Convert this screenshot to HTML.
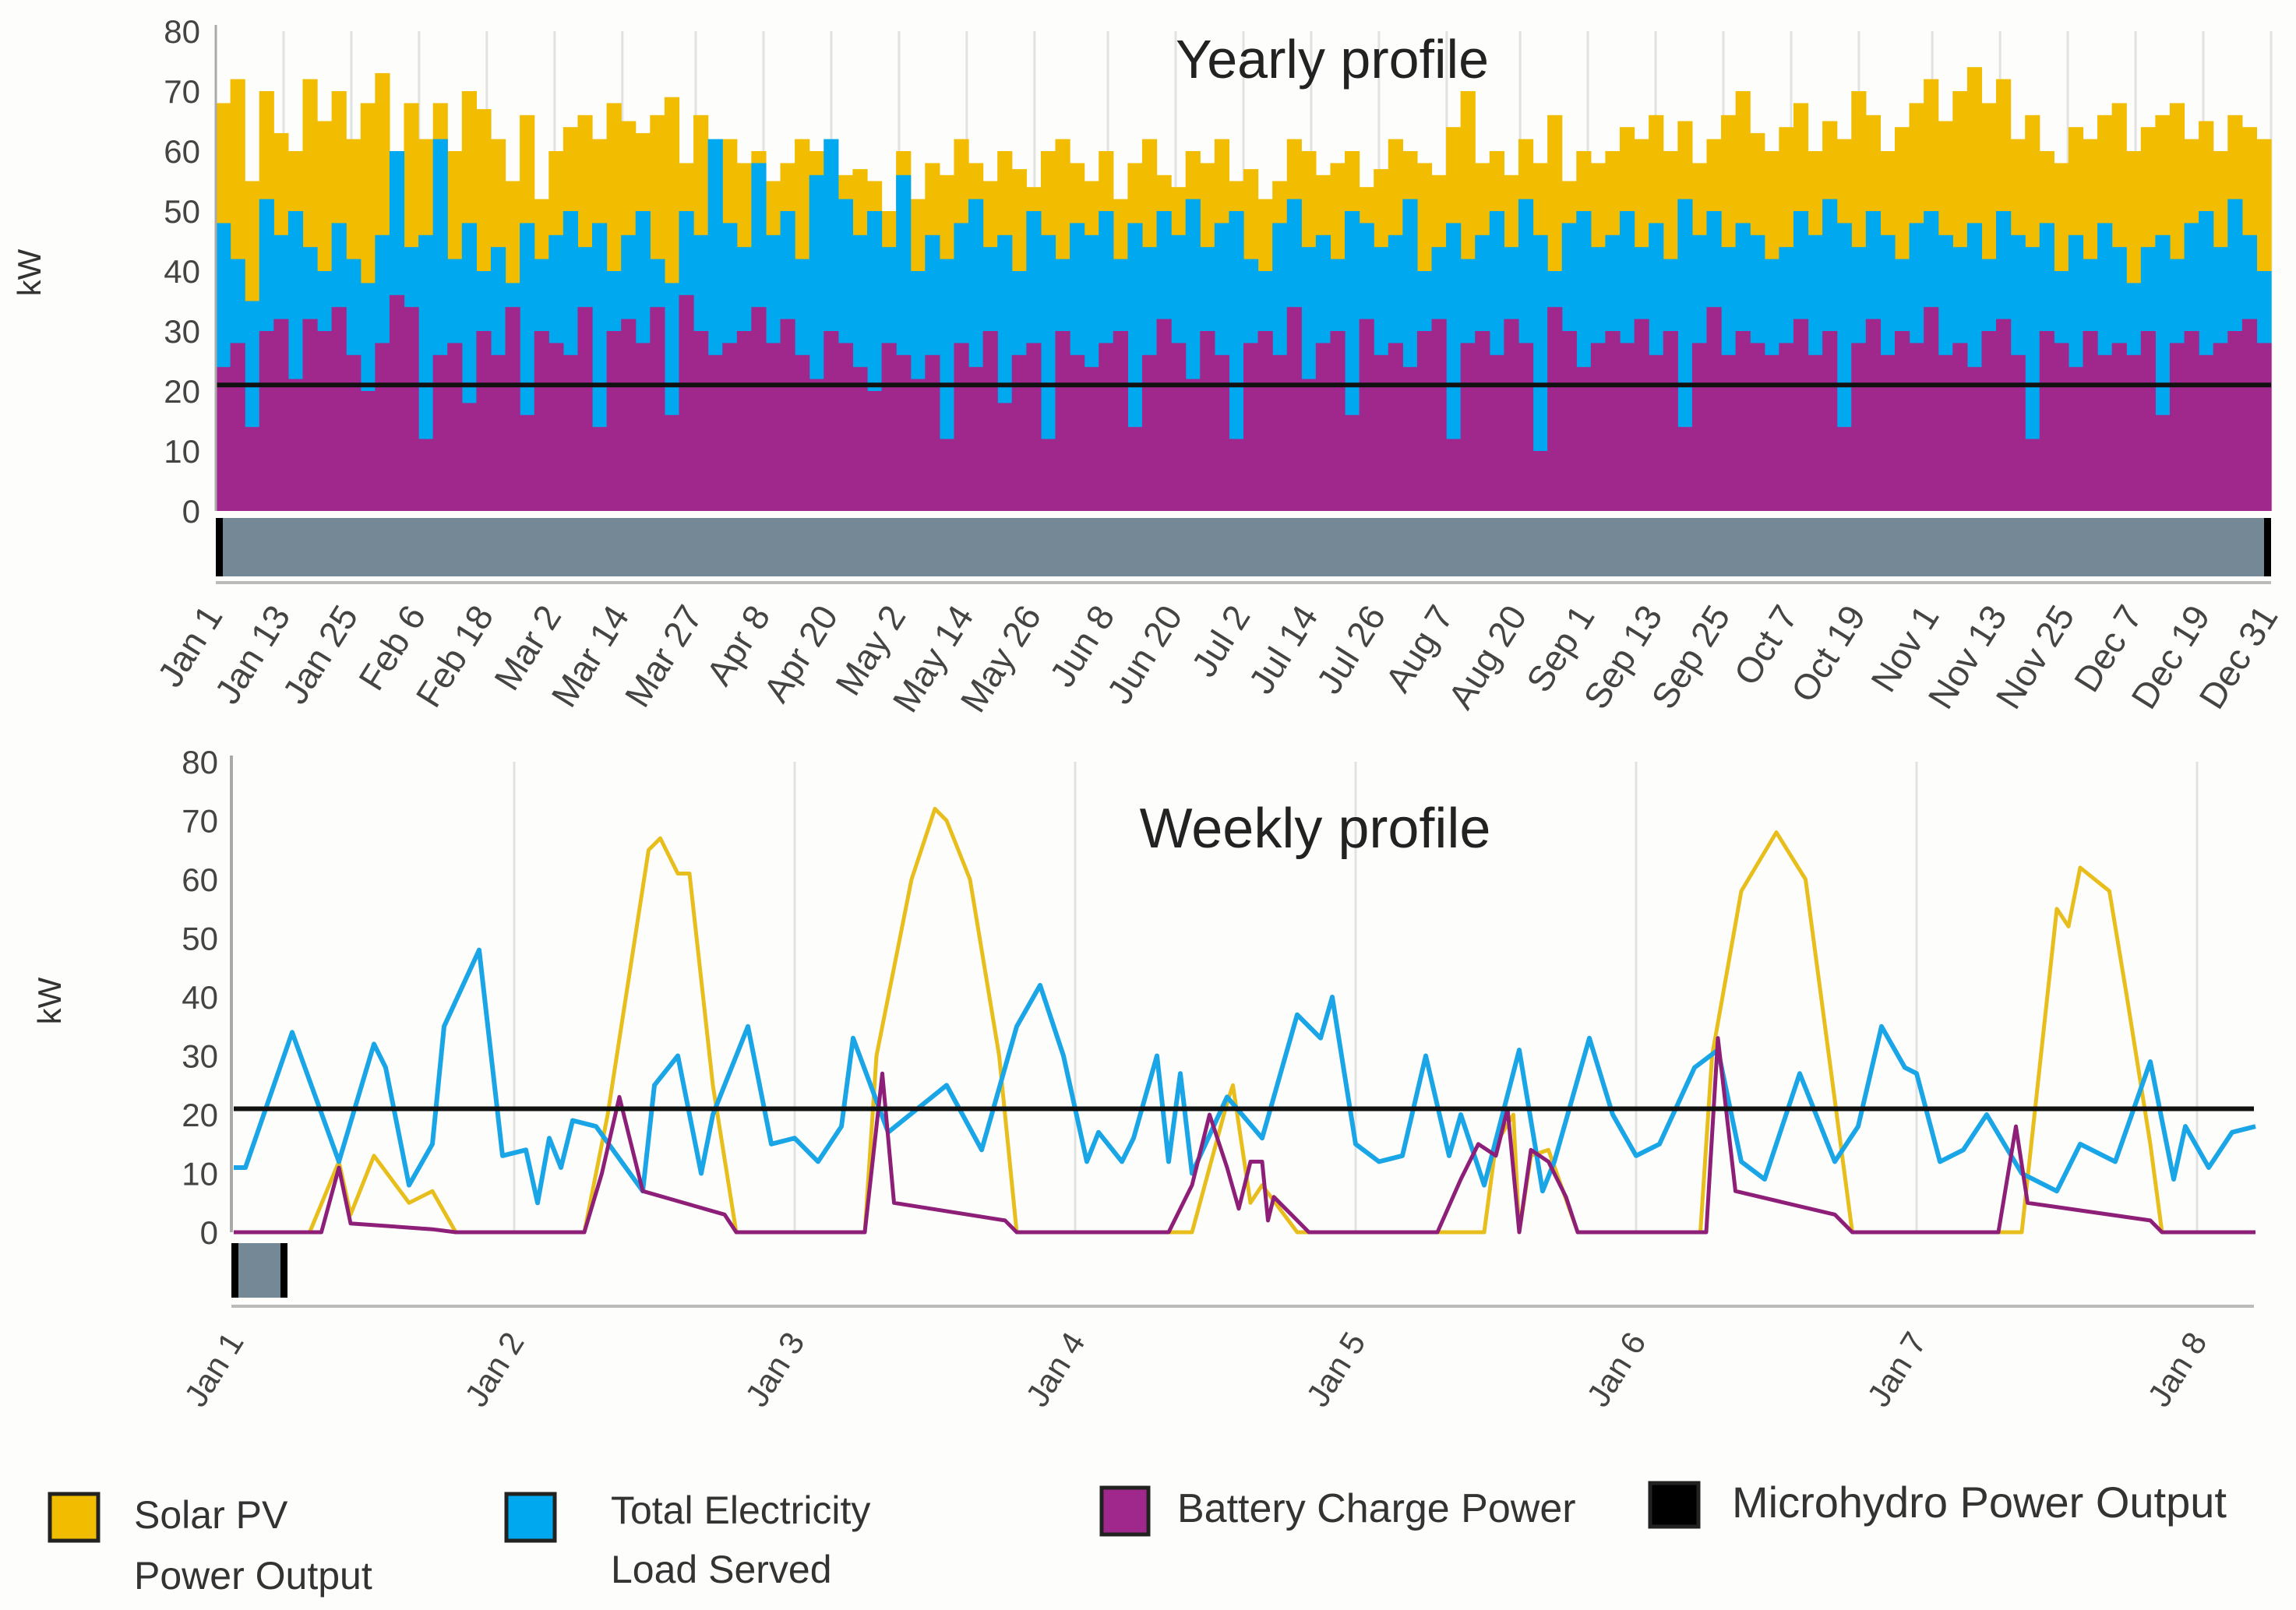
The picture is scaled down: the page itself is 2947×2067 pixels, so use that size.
<!DOCTYPE html>
<html><head><meta charset="utf-8">
<style>
html,body{margin:0;padding:0;background:#fdfdfb;}
svg{display:block;font-family:"Liberation Sans","DejaVu Sans",sans-serif;}
</style></head>
<body>
<svg id="chart" width="2947" height="2067" viewBox="0 0 2947 2067" xmlns="http://www.w3.org/2000/svg">
<rect x="0" y="0" width="2947" height="2067" fill="#fdfdfb"/>
<g id="yearly"></g>
<g id="weekly"></g>
<g id="legend">
  <g>
    <rect x="64" y="1918" width="62" height="60" fill="#f2bd00" stroke="#222" stroke-width="5"/>
    <text x="172" y="1962" font-size="50" fill="#333">Solar PV</text>
    <text x="172" y="2040" font-size="50" fill="#333">Power Output</text>
  </g>
  <g>
    <rect x="650" y="1918" width="62" height="60" fill="#00a8f0" stroke="#222" stroke-width="5"/>
    <text x="784" y="1956" font-size="50" fill="#333">Total Electricity</text>
    <text x="784" y="2032" font-size="50" fill="#333">Load Served</text>
  </g>
  <g>
    <rect x="1414" y="1910" width="60" height="60" fill="#a0288c" stroke="#222" stroke-width="5"/>
    <text x="1511" y="1954" font-size="52" fill="#333">Battery Charge Power</text>
  </g>
  <g>
    <rect x="2118" y="1904" width="62" height="56" fill="#000" stroke="#222" stroke-width="5"/>
    <text x="2223" y="1948" font-size="56" fill="#333">Microhydro Power Output</text>
  </g>
</g>
</svg>
<script>
// ---------- Yearly data (binned ~2.6 days) ----------
const yearSolar = [68,72,55,70,63,60,72,65,70,62,68,73,
58,68,62,68,60,70,67,62,55,66,52,60,
64,66,62,68,65,63,66,69,58,66,60,62,
58,60,55,58,62,60,52,56,57,55,50,60,
52,58,56,62,58,55,60,57,54,60,62,58,
55,60,52,58,62,56,54,60,58,62,55,57,
52,55,62,60,56,58,60,54,57,62,60,58,
56,64,70,58,60,56,62,58,66,55,60,58,
60,64,62,66,60,65,58,62,66,70,63,60,
64,68,60,65,62,70,66,60,64,68,72,65,
70,74,68,72,62,66,60,58,64,62,66,68,
60,64,66,68,62,65,60,66,64,62];
const yearLoad = [48,42,35,52,46,50,44,40,48,42,38,46,
60,44,46,62,42,48,40,44,38,48,42,46,
50,44,48,40,46,50,42,38,50,46,62,48,
44,58,46,50,42,56,62,52,46,50,44,56,
40,46,42,48,52,44,46,40,50,46,42,48,
46,50,42,48,44,50,46,52,44,48,50,42,
40,48,52,44,46,42,50,48,44,46,52,40,
44,48,42,46,50,44,52,46,40,48,50,44,
46,50,44,48,42,52,46,50,44,48,46,42,
44,50,46,52,48,44,50,46,42,48,50,46,
44,48,42,50,46,44,48,40,46,42,48,44,
38,44,46,42,48,50,44,52,46,40];
const yearBattery = [24,28,14,30,32,22,32,30,34,26,20,28,
36,34,12,26,28,18,30,26,34,16,30,28,
26,34,14,30,32,28,34,16,36,30,26,28,
30,34,28,32,26,22,30,28,24,20,28,26,
22,26,12,28,24,30,18,26,28,12,30,26,
24,28,30,14,26,32,28,22,30,26,12,28,
30,26,34,22,28,30,16,32,26,28,24,30,
32,12,28,30,26,32,28,10,34,30,24,28,
30,28,32,26,30,14,28,34,26,30,28,26,
28,32,26,30,14,28,32,26,30,28,34,26,
28,24,30,32,26,12,30,28,24,30,26,28,
26,30,16,28,30,26,28,30,32,28];
const yearHydro = 21;
const yearTickLabels = ["Jan 1","Jan 13","Jan 25","Feb 6","Feb 18","Mar 2","Mar 14","Mar 27","Apr 8","Apr 20","May 2","May 14","May 26","Jun 8","Jun 20","Jul 2","Jul 14","Jul 26","Aug 7","Aug 20","Sep 1","Sep 13","Sep 25","Oct 7","Oct 19","Nov 1","Nov 13","Nov 25","Dec 7","Dec 19","Dec 31"];
const yearTickDays = [0,12,24,36,48,60,72,85,97,109,121,133,145,158,170,182,194,206,218,231,243,255,267,279,291,304,316,328,340,352,364];
const yTicks = [0,10,20,30,40,50,60,70,80];

// ---------- Weekly data (hours from Jan 1 00:00) ----------
const loadHours = [0,1,5,9,12,13,15,17,18,21,23,25,26,27,28,29,31,35,36,38,40,41,44,46,48,50,52,53,56,61,64,67,69,71,73,74,76,77,79,80,81,82,85,88,91,93,94,96,98,100,102,104,105,107,110,112,113,116,118,120,122,125,127,129,131,134,137,139,141,143,144,146,148,150,153,156,158,161,164,166,167,169,171,173];
const loadValues = [11,11,34,12,32,28,8,15,35,48,13,14,5,16,11,19,18,7,25,30,10,20,35,15,16,12,18,33,17,25,14,35,42,30,12,17,12,16,30,12,27,10,23,16,37,33,40,15,12,13,30,13,20,8,31,7,12,33,20,13,15,28,31,12,9,27,12,18,35,28,27,12,14,20,10,7,15,12,29,9,18,11,17,18];
const solarHours = [0,6.5,9,10,12,15,17,19,30,32,35.5,36.5,38,39,41,43,54,55,58,60,61,63,65.5,67,82,85,85.5,87,88,91,107,108,109.5,110,111,112.5,115,125.5,126.5,129,132,134.5,136.5,138.5,153,156,157,158,160.5,162,164,165,173];
const solarValues = [0,0,12,3,13,5,7,0,0,20,65,67,61,61,25,0,0,30,60,72,70,60,30,0,0,22,25,5,8,0,0,15,20,0,13,14,0,0,30,58,68,60,30,0,0,55,52,62,58,40,15,0,0];
const battHours = [0,7.5,9,10,17,19,30,31.5,33,35,42,43,54,55.5,56.5,66,67,80,82,83.5,85,86,87,88,88.5,89,90.5,92,103,105,106.5,108,109,110,111,112.5,114,115,126,127,128.5,137,138.5,151,152.5,153.5,164,165,173];
const battValues = [0,0,11,1.5,0.5,0,0,10,23,7,3,0,0,27,5,2,0,0,8,20,11,4,12,12,2,6,3,0,0,9,15,13,21,0,14,12,6,0,0,33,7,3,0,0,18,5,2,0,0];
const weekHydro = 21;
const weekTickLabels = ["Jan 1","Jan 2","Jan 3","Jan 4","Jan 5","Jan 6","Jan 7","Jan 8"];
const weekTickDays = [0,1,2,3,4,5,6,7];

const NS = "http://www.w3.org/2000/svg";
function mk(parent, tag, attrs){const e=document.createElementNS(NS,tag);for(const k in attrs)e.setAttribute(k,attrs[k]);parent.appendChild(e);return e;}

// ---------- Yearly chart ----------
(function(){
  const g=document.getElementById('yearly');
  const X0=277,X1=2915,Y0=656,Y80=40;
  const yS=v=>Y0-(v/80)*(Y0-Y80);
  const xD=d=>X0+d/364*(X1-X0);
  yearTickDays.forEach((d,i)=>{
    if(i===0)return;
    const l=mk(g,'line',{x1:xD(d),x2:xD(d),y1:Y80,y2:Y0,stroke:'#e2e2e2','stroke-width':3});
    
    
  });
  const n=yearSolar.length, bw=(X1-X0)/n;
  const series=[[yearSolar,'#f2bd00','yearly-solar-bar'],[yearLoad,'#00a8f0','yearly-load-bar'],[yearBattery,'#a0288c','yearly-battery-bar']];
  series.forEach(([arr,col,name])=>{
    arr.forEach((v,i)=>{
      const r=mk(g,'rect',{x:X0+i*bw,y:yS(v),width:bw+0.6,height:Y0-yS(v),fill:col});
      
      
    });
  });
  const hl=mk(g,'line',{x1:X0,x2:X1,y1:yS(yearHydro),y2:yS(yearHydro),stroke:'#111','stroke-width':6});
  
  
  const ax=mk(g,'line',{x1:X0,x2:X0,y1:Y80-8,y2:Y0,stroke:'#aaa','stroke-width':3});
  
  
  yTicks.forEach(v=>{
    const t=mk(g,'text',{x:X0-20,y:yS(v)+15,'font-size':42,fill:'#444','text-anchor':'end'});
    t.textContent=v;
    
    
  });
  const sb=mk(g,'rect',{x:X0,y:665,width:X1-X0,height:75,fill:'#748896'});
  
  
  const h1=mk(g,'rect',{x:X0,y:665,width:9,height:75,fill:'#000'});
  
  
  const h2=mk(g,'rect',{x:X1-9,y:665,width:9,height:75,fill:'#000'});
  
  
  const bl=mk(g,'line',{x1:X0,x2:X1,y1:748,y2:748,stroke:'#bbb','stroke-width':4});
  
  
  yearTickLabels.forEach((s,i)=>{
    const x=xD(yearTickDays[i])+10;
    const t=mk(g,'text',{x:x,y:790,'font-size':46,fill:'#444','text-anchor':'end',transform:`rotate(-58 ${x} 790)`});
    t.textContent=s;
    
    
  });
  const ti=mk(g,'text',{x:1710,y:100,'font-size':70,fill:'#222','text-anchor':'middle'});
  ti.textContent='Yearly profile';
  
  
  const yl=mk(g,'text',{x:52,y:350,'font-size':42,fill:'#333','text-anchor':'middle',transform:'rotate(-90 52 350)'});
  yl.textContent='kW';
  
  
})();

// ---------- Weekly chart ----------
(function(){
  const g=document.getElementById('weekly');
  const X0=300,DAY=360,Y0=1582,Y80=978,XEND=2893;
  const yS=v=>Y0-(v/80)*(Y0-Y80);
  const xH=h=>X0+h/24*DAY;
  weekTickDays.forEach((d,i)=>{
    if(i===0)return;
    const l=mk(g,'line',{x1:X0+d*DAY,x2:X0+d*DAY,y1:Y80,y2:Y0,stroke:'#e2e2e2','stroke-width':3});
    
    
  });
  const ax=mk(g,'line',{x1:X0-3,x2:X0-3,y1:Y80-8,y2:Y0,stroke:'#aaa','stroke-width':4});
  
  
  yTicks.forEach(v=>{
    const t=mk(g,'text',{x:X0-20,y:yS(v)+15,'font-size':42,fill:'#444','text-anchor':'end'});
    t.textContent=v;
    
    
  });
  function line(hours,vals,col,name,w){
    const d=hours.map((h,i)=>(i?'L':'M')+xH(h).toFixed(1)+' '+yS(vals[i]).toFixed(1)).join(' ');
    const p=mk(g,'path',{d:d,fill:'none',stroke:col,'stroke-width':w,'stroke-linejoin':'round'});
    
    
  }
  line(solarHours,solarValues,'#e8be1c','weekly-solar-line',5);
  line(loadHours,loadValues,'#1aa6e6','weekly-load-line',6);
  line(battHours,battValues,'#8e1f78','weekly-battery-line',5);
  const hl=mk(g,'line',{x1:X0,x2:XEND,y1:yS(weekHydro),y2:yS(weekHydro),stroke:'#111','stroke-width':6});
  
  
  const sb=mk(g,'rect',{x:X0-3,y:1596,width:72,height:70,fill:'#748896'});
  
  
  const h1=mk(g,'rect',{x:X0-3,y:1596,width:9,height:70,fill:'#000'});
  
  
  const h2=mk(g,'rect',{x:X0+60,y:1596,width:9,height:70,fill:'#000'});
  
  
  const bl=mk(g,'line',{x1:X0-3,x2:XEND,y1:1677,y2:1677,stroke:'#bbb','stroke-width':4});
  
  
  weekTickLabels.forEach((s,i)=>{
    const x=X0+weekTickDays[i]*DAY+14;
    const t=mk(g,'text',{x:x,y:1722,'font-size':42,fill:'#444','text-anchor':'end',transform:`rotate(-58 ${x} 1722)`});
    t.textContent=s;
    
    
  });
  const ti=mk(g,'text',{x:1688,y:1088,'font-size':72,fill:'#222','text-anchor':'middle'});
  ti.textContent='Weekly profile';
  
  
  const yl=mk(g,'text',{x:78,y:1285,'font-size':42,fill:'#333','text-anchor':'middle',transform:'rotate(-90 78 1285)'});
  yl.textContent='kW';
  
  
})();
</script>
</body></html>
